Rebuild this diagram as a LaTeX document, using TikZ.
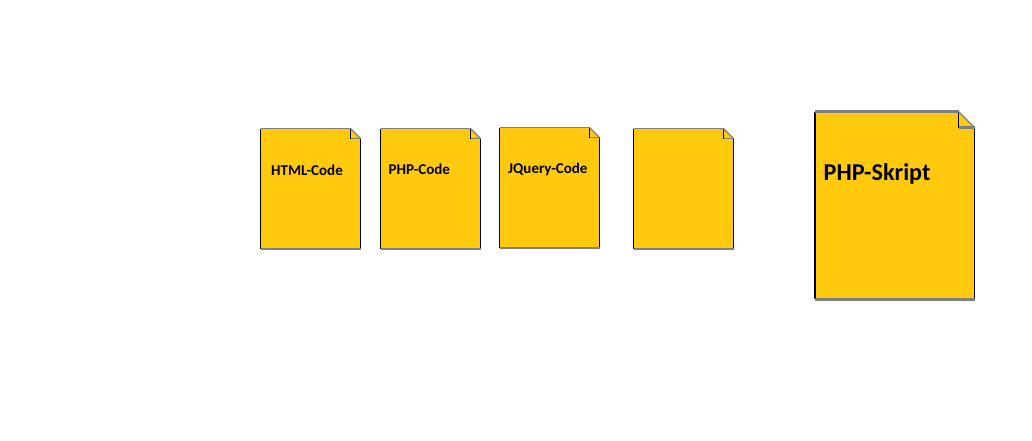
\documentclass[tikz,border=0pt]{standalone}
\usepackage{fontspec}
\setmainfont{Carlito}
\definecolor{docfill}{RGB}{255,201,14}
\definecolor{docgray}{RGB}{127,127,127}
\tikzset{
  x=1pt,y=-1pt,
  sheet/.style={fill=docfill,draw=none},
  edgeblack/.style={draw=black,line width=\edgew pt},
  edgegray/.style={draw=docgray,line width=\grayw pt},
  label small/.style={inner sep=0pt,anchor=west,font=\bfseries\fontsize{15}{18}\selectfont},
  label big/.style={inner sep=0pt,anchor=west,font=\bfseries\fontsize{24.2}{28}\selectfont}
}
\newcommand{\edgew}{1}
\newcommand{\grayw}{1.6}
% #1 left, #2 top, #3 right, #4 bottom, #5 fold size
\newcommand{\docsheet}[5]{%
  \fill[sheet] (#1,#2) -- ({#3-#5},#2) -- (#3,{#2+#5}) -- (#3,#4) -- (#1,#4) -- cycle;
  \draw[edgeblack] (#1,#2) -- (#1,#4);
  \draw[edgeblack] (#3,{#2+#5}) -- (#3,#4);
  \draw[edgeblack] ({#3-#5},#2) -- ({#3-#5},{#2+#5});
  \draw[draw=docgray,line width=1.2pt] ({#3-#5},#2) -- (#3,{#2+#5});
  \draw[edgegray] ({#3-#5},{#2+#5}) -- (#3,{#2+#5});
  \draw[edgegray] (#1,#2) -- ({#3-#5},#2);
  \draw[edgegray] (#1,#4) -- (#3,#4);
}
\begin{document}
\begin{tikzpicture}
\useasboundingbox[fill=white] (0,0) rectangle (1032,440);
\docsheet{260.5}{128.5}{360.5}{248.7}{10}
\docsheet{380.5}{128.5}{480.5}{248.7}{10}
\docsheet{499.5}{127.5}{599.5}{247.7}{10}
\docsheet{633.5}{128.5}{733.5}{248.7}{10}
\renewcommand{\edgew}{1.6}
\renewcommand{\grayw}{2.4}
\docsheet{815}{111.5}{974.5}{299.3}{16}
\node[label small] (html) at (271,170) {HTML-Code};
\node[label small] (php) at (388.5,169) {PHP-Code};
\node[label small] (jq) at (508,169) {JQuery-Code};
\node[label big] (skript) at (823.5,173.5) {PHP-Skript};
\end{tikzpicture}
\end{document}
